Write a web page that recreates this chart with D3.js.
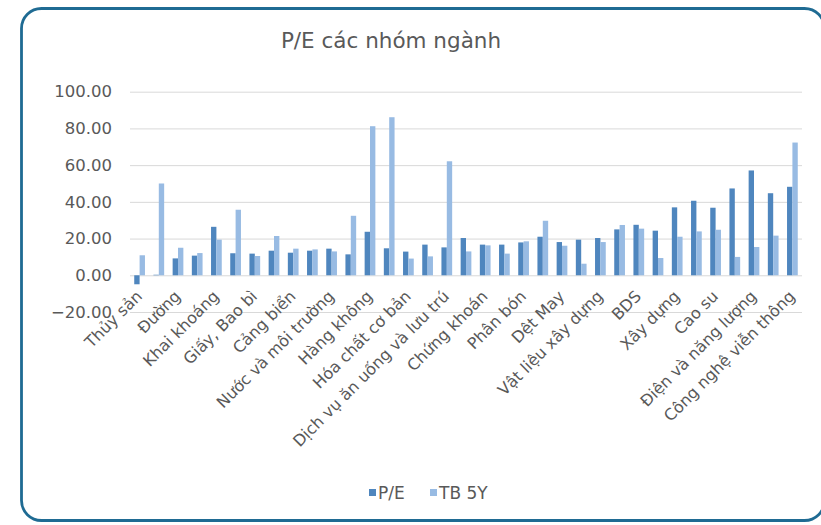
<!DOCTYPE html>
<html>
<head>
<meta charset="utf-8">
<script src="https://cdn.jsdelivr.net/npm/d3@7"></script>
<style>
    html, body { margin: 0; padding: 0; background: #fff; }
    svg { display: block; font-family: "DejaVu Sans", Verdana, sans-serif; }
</style>
</head>
<body>
<div class="chart"></div>
<script>
// 35 groups; only every other one carries a visible label in the original
const tickLabels = [
    "Thủy sản", "Đường", "Khai khoáng", "Giấy, Bao bì", "Cảng biển",
    "Nước và môi trường", "Hàng không", "Hóa chất cơ bản",
    "Dịch vụ ăn uống và lưu trú", "Chứng khoán", "Phân bón", "Dệt May",
    "Vật liệu xây dựng", "BDS", "Xây dựng", "Cao su",
    "Điện và năng lượng", "Công nghệ viễn thông"
];
const categories = d3.range(35);
const seriesNames = ["P/E", "TB 5Y"];
const pe = [
    -4.9, 0.3, 9.2, 10.7, 26.4, 12.0, 11.8, 13.4, 12.3, 13.4,
    14.5, 11.4, 23.7, 14.7, 12.9, 16.7, 15.2, 20.3, 16.7, 16.7,
    17.9, 21.0, 18.1, 19.4, 20.3, 25.0, 27.5, 24.3, 37.0, 40.6,
    36.8, 47.3, 57.1, 44.7, 48.2
];
const tb5y = [
    10.9, 50.0, 15.0, 12.1, 19.4, 35.7, 10.5, 21.4, 14.5, 14.1,
    13.0, 32.4, 81.2, 86.1, 9.1, 10.3, 62.1, 13.0, 16.3, 11.8,
    18.5, 29.7, 16.1, 6.3, 18.1, 27.4, 25.4, 9.4, 21.0, 23.9,
    24.8, 10.0, 15.4, 21.6, 72.3
];
const yTicks = [-20, 0, 20, 40, 60, 80, 100];

const colors = ["#4f86be", "#98bbe3"];
const textColor = "#595959";

const W = 821, H = 525;
const svg = d3.select(".chart").append("svg")
    .attr("width", W)
    .attr("height", H);

// rounded frame
svg.append("rect")
    .attr("x", 21.5).attr("y", 8.5)
    .attr("width", 803).attr("height", 512)
    .attr("rx", 20).attr("ry", 20)
    .attr("fill", "#fff")
    .attr("stroke", "#1f6b93")
    .attr("stroke-width", 2.8);

// title
svg.append("text")
    .attr("x", 391).attr("y", 48)
    .attr("text-anchor", "middle")
    .attr("fill", textColor)
    .style("font-size", "21.5px")
    .text("P/E các nhóm ngành");

const plot = { left: 130, right: 802, top: 91.7, bottom: 312 };

const x0 = d3.scaleBand()
    .domain(categories)
    .range([plot.left, plot.right])
    .padding(0);

const x1 = d3.scaleBand()
    .domain(seriesNames)
    .range([0, x0.bandwidth()])
    .paddingInner(0)
    .paddingOuter(0.79);

const y = d3.scaleLinear()
    .domain([-20, 100])
    .range([plot.bottom, plot.top]);

// y axis + gridlines
const yAxis = svg.append("g")
    .attr("transform", `translate(${plot.left},0)`)
    .call(d3.axisLeft(y)
        .tickValues(yTicks)
        .tickFormat(d3.format(".2f"))
        .tickSize(-(plot.right - plot.left))
        .tickPadding(18));
yAxis.select(".domain").remove();
yAxis.selectAll(".tick line").attr("stroke", "#d9d9d9").attr("stroke-width", 1);
yAxis.selectAll(".tick text")
    .attr("fill", textColor)
    .style("font-size", "16.5px")
    .style("font-family", "DejaVu Sans, Verdana, sans-serif");

// bars
const rows = categories.map((c, i) => ({ cat: c, values: [pe[i], tb5y[i]] }));

const groups = svg.append("g").selectAll("g")
    .data(rows)
    .join("g")
    .attr("transform", d => `translate(${x0(d.cat)},0)`);

groups.selectAll("rect")
    .data(d => d.values.map((v, k) => ({ key: seriesNames[k], v, k })))
    .join("rect")
    .attr("x", d => x1(d.key))
    .attr("width", x1.bandwidth())
    .attr("y", d => y(Math.max(0, d.v)))
    .attr("height", d => Math.abs(y(d.v) - y(0)))
    .attr("fill", d => colors[d.k]);

// category axis (labels on every other group)
const xAxis = svg.append("g")
    .attr("transform", `translate(0,${y(0)})`)
    .call(d3.axisBottom(x0)
        .tickValues(categories.filter(c => c % 2 === 0))
        .tickFormat(c => tickLabels[c / 2])
        .tickSize(0));
xAxis.select(".domain").remove();
xAxis.selectAll(".tick text")
    .attr("x", 0).attr("y", 0).attr("dy", "0.35em")
    .attr("transform", "translate(-0.5,18) rotate(-45)")
    .attr("text-anchor", "end")
    .attr("fill", textColor)
    .style("font-size", "16px")
    .style("font-family", "DejaVu Sans, Verdana, sans-serif");

// legend
const legend = svg.append("g").attr("transform", "translate(369,493)");
const legendX = [0, 61];
seriesNames.forEach((name, k) => {
    const item = legend.append("g").attr("transform", `translate(${legendX[k]},0)`);
    item.append("rect")
        .attr("x", 0).attr("y", -4)
        .attr("width", 7).attr("height", 7)
        .attr("fill", colors[k]);
    item.append("text")
        .attr("x", 9).attr("y", 0).attr("dy", "0.35em")
        .attr("fill", textColor)
        .style("font-size", "17px")
        .text(name);
});
</script>
</body>
</html>
